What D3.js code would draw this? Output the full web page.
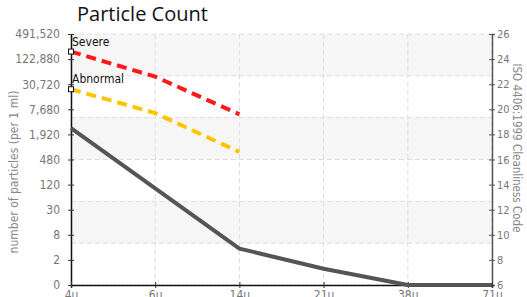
<!DOCTYPE html>
<html lang="en">
<head>
<meta charset="utf-8">
<title>Particle Count</title>
<script src="https://cdn.jsdelivr.net/npm/d3@7"></script>
<style>
  body { margin: 0; background: #fff; }
  .tick text { font-family: "DejaVu Sans Condensed", "Liberation Sans Narrow", sans-serif; font-size: 12px; fill: #777; }
  .right .tick text { font-size: 11px; }
</style>
</head>
<body>
<div id="chart"></div>
<script>
// data
var sizes = ["4\u03bc", "6\u03bc", "14\u03bc", "21\u03bc", "38\u03bc", "71\u03bc"];
var isoCodes = [6, 8, 10, 12, 14, 16, 18, 20, 22, 24, 26];
var countLabels = ["0", "2", "8", "30", "120", "480", "1,920", "7,680", "30,720", "122,880", "491,520"];
var measured = [18.5, 13.7, 8.9, 7.3, 6, 6];       // grey line, ISO code
var severe = [24.6, 22.6, 19.6];                   // red dashed
var abnormal = [21.6, 19.7, 16.6];                 // yellow dashed

var w = 527, h = 297;
var plotL = 71, plotR = 492, plotT = 34, plotB = 285;

var svg = d3.select("#chart").append("svg")
  .attr("width", w).attr("height", h);

var x = d3.scalePoint().domain(sizes).range([plotL, plotR]);
var y = d3.scaleLinear().domain([6, 26]).range([plotB, plotT]);

// alternating bands, 6 of them
var bandEdges = d3.range(7).map(function(i) { return 26 - i * 20 / 6; });
svg.append("g").selectAll("rect")
  .data(d3.range(6).filter(function(i) { return i % 2 == 0; }))
  .enter().append("rect")
  .attr("x", plotL).attr("width", plotR - plotL)
  .attr("y", function(i) { return y(bandEdges[i]); })
  .attr("height", function(i) { return y(bandEdges[i + 1]) - y(bandEdges[i]); })
  .attr("fill", "#f6f6f6");

// dashed grid
var grid = svg.append("g").attr("stroke", "#ddd").attr("stroke-dasharray", "5,3");
grid.selectAll("line.h").data(bandEdges).enter().append("line")
  .attr("x1", plotL).attr("x2", plotR)
  .attr("y1", function(d) { return y(d); }).attr("y2", function(d) { return y(d); });
grid.selectAll("line.v").data(sizes).enter().append("line")
  .attr("x1", function(d) { return x(d); }).attr("x2", function(d) { return x(d); })
  .attr("y1", plotT).attr("y2", plotB);

// axes
function crossTicks(g, dir) {
  g.selectAll(".tick line").each(function() {
    var l = d3.select(this);
    if (dir == "x") l.attr("y1", -3).attr("y2", 3);
    else l.attr("x1", -3).attr("x2", 3);
  });
}

var yLeft = svg.append("g").attr("transform", "translate(" + plotL + ",0)")
  .call(d3.axisLeft(y).tickValues(isoCodes).tickSizeOuter(0)
    .tickFormat(function(d, i) { return countLabels[i]; }).tickPadding(5));
yLeft.select(".domain").attr("stroke", "#111").attr("stroke-width", 1.5);
yLeft.selectAll(".tick line").attr("stroke", "#333");
crossTicks(yLeft, "y");

var yRight = svg.append("g").attr("class", "right").attr("transform", "translate(" + plotR + ",0)")
  .call(d3.axisRight(y).tickValues(isoCodes).tickSizeOuter(0).tickSize(3).tickPadding(2));
yRight.select(".domain").attr("stroke", "#555").attr("stroke-width", 1.5);
yRight.selectAll(".tick line").attr("stroke", "#555");
crossTicks(yRight, "y");

var xAxis = svg.append("g").attr("transform", "translate(0," + plotB + ")")
  .call(d3.axisBottom(x).tickSizeOuter(0).tickSize(3).tickPadding(2));
xAxis.select(".domain").attr("stroke", "#111").attr("stroke-width", 1.5);
xAxis.selectAll(".tick line").attr("stroke", "#333");
crossTicks(xAxis, "x");

// lines
var line = d3.line()
  .x(function(d, i) { return x(sizes[i]); })
  .y(function(d) { return y(d); });

svg.append("path").datum(measured)
  .attr("d", line).attr("fill", "none")
  .attr("stroke", "#555").attr("stroke-width", 4).attr("stroke-linejoin", "round");
svg.append("path").datum(severe)
  .attr("d", line).attr("fill", "none")
  .attr("stroke", "#ff1a1a").attr("stroke-width", 4).attr("stroke-dasharray", "10,6");
svg.append("path").datum(abnormal)
  .attr("d", line).attr("fill", "none")
  .attr("stroke", "#ffc400").attr("stroke-width", 4).attr("stroke-dasharray", "10,6");

// limit markers and names
var limits = [{name: "Severe", v: severe[0]}, {name: "Abnormal", v: abnormal[0]}];
svg.selectAll("rect.mk").data(limits).enter().append("rect")
  .attr("x", x(sizes[0]) - 2.5).attr("y", function(d) { return y(d.v) - 2.5; })
  .attr("width", 5).attr("height", 5)
  .attr("fill", "#fff").attr("stroke", "#111");
svg.selectAll("text.mk").data(limits).enter().append("text")
  .attr("x", x(sizes[0]) + 1).attr("y", function(d) { return y(d.v) - 6; })
  .attr("font-family", "DejaVu Sans Condensed, sans-serif").attr("font-size", "12px")
  .attr("fill", "#111")
  .text(function(d) { return d.name; });

// titles
svg.append("text").attr("x", 77).attr("y", 21)
  .attr("font-family", "Open Sans, sans-serif").attr("font-size", "20px").attr("fill", "#111")
  .text("Particle Count");
svg.append("text")
  .attr("transform", "translate(18,172) rotate(-90)").attr("text-anchor", "middle")
  .attr("font-family", "DejaVu Sans Condensed, sans-serif").attr("font-size", "12px").attr("fill", "#888")
  .text("number of particles (per 1 ml)");
svg.append("text")
  .attr("transform", "translate(513,148) rotate(90)").attr("text-anchor", "middle")
  .attr("font-family", "DejaVu Sans Condensed, sans-serif").attr("font-size", "11.5px").attr("fill", "#888")
  .text("ISO 4406:1999 Cleanliness Code");
</script>
</body>
</html>
